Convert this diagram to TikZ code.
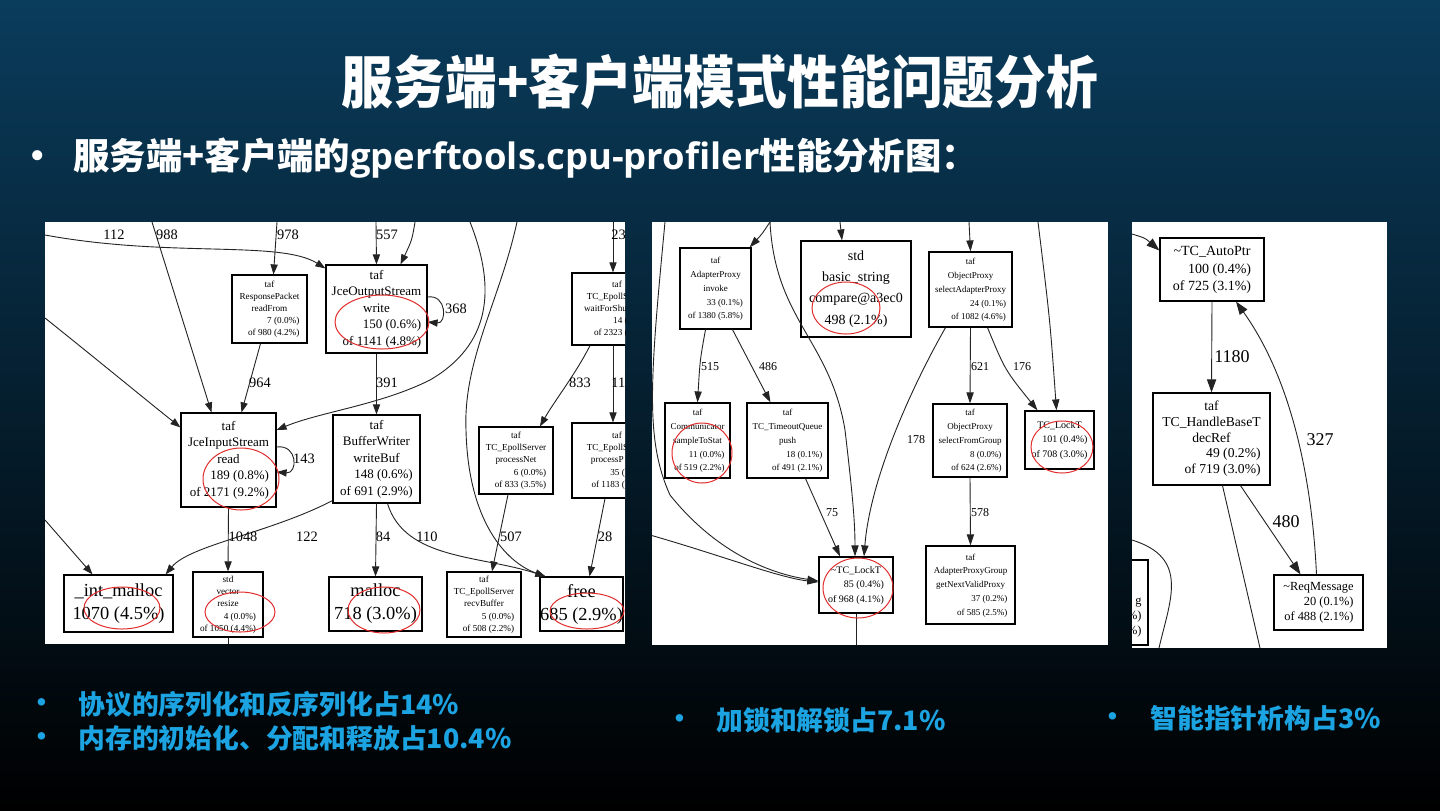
\documentclass[tikz,border=0pt]{standalone}
\usepackage{fontspec}
\setmainfont{Liberation Serif}
\newfontfamily\cjk{Noto Sans CJK SC}
\newfontfamily\latin{Open Sans}
\usetikzlibrary{arrows.meta,calc}
\definecolor{bgtop}{RGB}{10,60,92}
\definecolor{bgmid}{RGB}{4,28,44}
\definecolor{hilite}{RGB}{28,164,226}
\definecolor{circred}{RGB}{225,45,45}
\definecolor{edgegray}{RGB}{35,35,35}
\newcommand{\prof}[3]{\begin{tabular}{@{}c@{}}#1\\\hfill#2\\\hfill#3\end{tabular}}

\begin{document}
\begin{tikzpicture}[x=0.5pt,y=-0.5pt,
  fn/.style={draw,line width=0.6pt,fill=white,inner sep=0pt,text=black,align=center},
  sz/.style 2 args={minimum width=#1*0.5pt,minimum height=#2*0.5pt},
  p1tiny/.style={font=\fontsize{4.6}{6.1}\selectfont},
  p1mid/.style={font=\fontsize{6.5}{8.2}\selectfont},
  p1big/.style={font=\fontsize{9.2}{11.5}\selectfont},
  p2tiny/.style={font=\fontsize{4.5}{6.9}\selectfont},
  p2std/.style={font=\fontsize{7}{10.6}\selectfont},
  p2lock/.style={font=\fontsize{5}{7.4}\selectfont},
  p3a/.style={font=\fontsize{7}{8.8}\selectfont},
  p3b/.style={font=\fontsize{6.8}{7.9}\selectfont},
  p3c/.style={font=\fontsize{6.2}{7.5}\selectfont},
  lab1/.style={font=\fontsize{7.2}{8}\selectfont,inner sep=0pt},
  lab2/.style={font=\fontsize{6}{7}\selectfont,inner sep=0pt},
  lab3/.style={font=\fontsize{9}{10}\selectfont,inner sep=0pt},
  pl/.style={line width=0.45pt,draw=edgegray},
  ed1/.style={pl,-{Triangle[length=5pt,width=3.6pt]}},
  ed2/.style={pl,-{Triangle[length=5.5pt,width=3.6pt]}},
  ed3/.style={pl,-{Triangle[length=6.5pt,width=4.6pt]}},
  ring/.style={draw=circred,line width=0.5pt},
  slide/.style={text=white,inner sep=0pt},
  note/.style={text=hilite,inner sep=0pt,font=\cjk\bfseries\fontsize{13.4}{15}\selectfont}]

\useasboundingbox (0,0) rectangle (1440,810);
\shade[top color=bgtop,middle color=bgmid,bottom color=black] (0,0) rectangle (1440,810);

% title and heading
\node[slide,font=\cjk\bfseries\fontsize{25.9}{28}\selectfont] (title) at (720,82) {\scalebox{1}[1.1]{服务端+客户端模式性能问题分析}};
\node[slide,font=\cjk\bfseries\fontsize{18.2}{20}\selectfont] (dot0) at (38,160) {•};
\node[slide,anchor=west,font=\cjk\bfseries\fontsize{18.2}{20}\selectfont] (head) at (73,158) {服务端+客户端的{\latin gperftools.cpu-profiler}性能分析图：};

% panel 1: serialization and memory
\fill[white] (45,222) rectangle (625,644);
\begin{scope}
\clip (45,222) rectangle (625,644);
\node[fn,p1tiny,sz={75}{68}] (rp) at (269.5,309) {\prof{taf\\ResponsePacket\\readFrom}{7 (0.0\%)}{of 980 (4.2\%)}};
\node[fn,p1mid,sz={101}{88}] (jos) at (376.5,309) {\prof{taf\\JceOutputStream\\write}{150 (0.6\%)}{of 1141 (4.8\%)}};
\node[fn,p1mid,sz={95}{94}] (jis) at (228.5,460) {\prof{taf\\JceInputStream\\read}{189 (0.8\%)}{of 2171 (9.2\%)}};
\node[fn,p1mid,sz={87}{88}] (bw) at (376.5,459) {\prof{taf\\BufferWriter\\writeBuf}{148 (0.6\%)}{of 691 (2.9\%)}};
\node[fn,p1big,sz={109}{57}] (im) at (118.5,603.5) {\_int\_malloc\\1070 (4.5\%)};
\node[fn,p1tiny,sz={70}{65}] (vec) at (228,604.5) {\prof{std\\vector\\resize}{4 (0.0\%)}{of 1050 (4.4\%)}};
\node[fn,p1big,sz={93}{54}] (mal) at (375.5,604) {malloc\\718 (3.0\%)};
\node[fn,p1tiny,sz={74}{67}] (pn) at (516,460.5) {\prof{taf\\TC\_EpollServer\\processNet}{6 (0.0\%)}{of 833 (3.5\%)}};
\node[fn,p1tiny,sz={74}{65}] (rb) at (484,604.5) {\prof{taf\\TC\_EpollServer\\recvBuffer}{5 (0.0\%)}{of 508 (2.2\%)}};
\node[fn,p1big,sz={83}{54}] (fr) at (581.5,604) {free\\685 (2.9\%)};
\node[fn,p1tiny,sz={90}{72}] (wfs) at (617,309) {\prof{taf\\TC\_EpollS\phantom{erver}\\waitForShu\phantom{tdown}}{14 (\phantom{0.1\%)}}{of 2323 (\phantom{0.1\%)}}};
\node[fn,p1tiny,sz={90}{75}] (pp) at (617,460.5) {\prof{taf\\TC\_EpollS\phantom{erver}\\processP\phantom{acket}}{35 (\phantom{0.1\%)}}{of 1183 (\phantom{0.1\%)}}};

\coordinate (e112) at (45,235);
\coordinate (e988) at (152,222);
\coordinate (e978) at (277,222);
\coordinate (el1) at (45,318);
\coordinate (el2) at (45,520);
\coordinate (e557) at (376,222);
\coordinate (eto) at (415,222);
\coordinate (ec1) at (470,222);
\coordinate (ec2) at (517,222);
\coordinate (e23) at (613,222);
\coordinate (evec) at (228,644);
\draw[ed1] (e112) .. controls (170,258) and (280,240) .. ($(jos.north west)+(0,4)$);
\draw[ed1] (e988) -- ($(jis.north)+(-17,0)$);
\draw[ed1] (e978) -- ($(rp.north)+(4,0)$);
\draw[ed1] ($(rp.south)+(-9,0)$) -- ($(jis.north)+(13,0)$);
\draw[ed1] (el1) .. controls (100,362) and (140,395) .. ($(jis.north west)+(0,15)$);
\draw[ed1] (el2) -- ($(im.north)+(-26,0)$);
\draw[ed1] (e557) -- (jos.north);
\draw[ed1] (eto) .. controls (412,240) .. ($(jos.north)+(24,0)$);
\draw[ed1] ($(jos.east)+(0,-12)$) .. controls (447,294) and (447,324) .. ($(jos.east)+(0,13)$);
\draw[ed1] (jos.south) -- (bw.north);
\draw[ed1] (ec1) .. controls (497,290) and (490,345) .. (430,380) .. controls (380,405) and (320,412) .. ($(jis.east)+(0,-30)$);
\draw[ed1] (ec2) .. controls (500,300) and (463,360) .. (466,430) .. controls (468,520) and (505,562) .. ($(fr.north west)+(6,0)$);
\draw[ed1] ($(wfs.south)+(-27,0)$) .. controls (575,375) and (555,400) .. ($(pn.north)+(24,0)$);
\draw[ed1] ($(wfs.south)+(-4,0)$) -- ($(pp.north)+(-4,0)$);
\draw[ed1] (e23) -- ($(wfs.north)+(-4,0)$);
\draw[ed1] ($(jis.east)+(0,-13)$) .. controls (298,444) and (298,474) .. ($(jis.east)+(0,12)$);
\draw[ed1] (jis.south) -- (vec.north);
\draw[ed1] ($(bw.south west)+(0,-3)$) .. controls (270,533) and (190,545) .. ($(im.north east)+(-8,0)$);
\draw[ed1] (bw.south) -- (mal.north);
\draw[ed1] ($(bw.south)+(11,0)$) .. controls (405,560) and (480,555) .. ($(fr.north west)+(6,0)$);
\draw[ed1] ($(pn.south)+(-8,0)$) -- ($(rb.north)+(8,0)$);
\draw[ed1] ($(pp.south)+(-12,0)$) -- ($(fr.north)+(8,0)$);
\draw[pl] (vec.south) -- (evec);

\node[lab1] (l112) at (114,235) {112};
\node[lab1] (l988) at (167,235) {988};
\node[lab1] (l978) at (288,235) {978};
\node[lab1] (l557) at (387,235) {557};
\node[lab1,anchor=west] (l23) at (611,235) {23};
\node[lab1] (l368) at (456,309) {368};
\node[lab1] (l964) at (260,383) {964};
\node[lab1] (l391) at (387,383) {391};
\node[lab1] (l833) at (580,383) {833};
\node[lab1,anchor=west] (l11) at (611,383) {11};
\node[lab1] (l143) at (304,459) {143};
\node[lab1] (l1048) at (243,537) {1048};
\node[lab1] (l122) at (307,537) {122};
\node[lab1] (l84) at (383,537) {84};
\node[lab1] (l110) at (427,537) {110};
\node[lab1] (l507) at (511,537) {507};
\node[lab1] (l28) at (605,537) {28};

\draw[ring] (382,322) ellipse [x radius=47,y radius=27];
\draw[ring] (241,479) ellipse [x radius=38,y radius=31];
\draw[ring] (122,608) ellipse [x radius=38,y radius=21];
\draw[ring] (240,612) ellipse [x radius=35,y radius=20];
\draw[ring] (384,610) ellipse [x radius=36,y radius=23];
\draw[ring] (587,611) ellipse [x radius=37,y radius=18];
\end{scope}

% panel 2: locks
\fill[white] (652,222) rectangle (1108,645);
\begin{scope}
\clip (652,222) rectangle (1108,645);
\node[fn,p2tiny,sz={71}{81}] (api) at (715.5,288.5) {\prof{taf\\AdapterProxy\\invoke}{33 (0.1\%)}{of 1380 (5.8\%)}};
\node[fn,p2std,sz={110}{96}] (str) at (856,289) {std\\basic\_string\\compare@a3ec0\\498 (2.1\%)};
\node[fn,p2tiny,sz={83}{75}] (osa) at (970.5,289.5) {\prof{taf\\ObjectProxy\\selectAdapterProxy}{24 (0.1\%)}{of 1082 (4.6\%)}};
\node[fn,p2tiny,sz={65}{75}] (com) at (697.5,440.5) {\prof{taf\\Communicator\\sampleToStat}{11 (0.0\%)}{of 519 (2.2\%)}};
\node[fn,p2tiny,sz={81}{75}] (tq) at (787.5,440.5) {\prof{taf\\TC\_TimeoutQueue\\push}{18 (0.1\%)}{of 491 (2.1\%)}};
\node[fn,p2tiny,sz={74}{73}] (osf) at (970,440.5) {\prof{taf\\ObjectProxy\\selectFromGroup}{8 (0.0\%)}{of 624 (2.6\%)}};
\node[fn,p2lock,sz={69}{58}] (lk2) at (1059.5,440) {\prof{TC\_LockT}{101 (0.4\%)}{of 708 (3.0\%)}};
\node[fn,p2lock,sz={74}{56}] (lk1) at (856,585) {\prof{\textasciitilde TC\_LockT}{85 (0.4\%)}{of 968 (4.1\%)}};
\node[fn,p2tiny,sz={89}{78}] (apg) at (970.5,585) {\prof{taf\\AdapterProxyGroup\\getNextValidProxy}{37 (0.2\%)}{of 585 (2.5\%)}};

\coordinate (fa) at (770,222);
\coordinate (fl) at (665,222);
\coordinate (fl2) at (650,535);
\coordinate (fs) at (840,222);
\coordinate (fo) at (969,222);
\coordinate (fr2) at (1038,222);
\coordinate (fb) at (856,645);
\draw[ed2] (fa) .. controls (762,234) .. ($(api.north east)+(-2,0)$);
\draw[ed2] (fa) .. controls (775,320) and (830,340) .. (845,430) .. controls (852,490) and (855,520) .. ($(lk1.north)+(-1,0)$);
\draw[ed2] (fl) .. controls (650,380) and (645,440) .. (670,495) .. controls (710,545) and (760,572) .. ($(lk1.west)+(0,-4)$);
\draw[ed2] (fl2) .. controls (720,555) and (780,578) .. ($(lk1.west)+(0,-3)$);
\draw[ed2] (fs) -- ($(str.north)+(-14,0)$);
\draw[ed2] ($(api.south)+(-10,0)$) .. controls (700,360) .. (com.north);
\draw[ed2] ($(api.south)+(17,0)$) -- ($(tq.north)+(-17,0)$);
\draw[ed2] ($(tq.south)+(18,0)$) -- ($(lk1.north)+(-16,0)$);
\draw[ed2] (fo) -- (osa.north);
\draw[ed2] (osa.south) -- (osf.north);
\draw[ed2] ($(osa.south)+(17,0)$) .. controls (1005,370) .. ($(lk2.north)+(-22,0)$);
\draw[ed2] (fr2) .. controls (1050,320) .. ($(lk2.north)+(-3,0)$);
\draw[ed2] ($(osa.south)+(-25,0)$) .. controls (910,390) and (870,480) .. ($(lk1.north)+(8,0)$);
\draw[ed2] (osf.south) -- (apg.north);
\draw[pl] (lk1.south) -- (fb);

\node[lab2] (l515) at (710,367) {515};
\node[lab2] (l486) at (768,367) {486};
\node[lab2] (l621) at (980,367) {621};
\node[lab2] (l176) at (1022,367) {176};
\node[lab2] (l178) at (916,440) {178};
\node[lab2] (l75) at (832,513) {75};
\node[lab2] (l578) at (980,513) {578};

\draw[ring] (846,308) ellipse [x radius=34,y radius=26];
\draw[ring] (702,453) ellipse [x radius=30,y radius=30];
\draw[ring] (858,588) ellipse [x radius=35,y radius=30];
\draw[ring] (1062,447) ellipse [x radius=31,y radius=26];
\end{scope}

% panel 3: smart pointers
\fill[white] (1132,222) rectangle (1387,648);
\begin{scope}
\clip (1132,222) rectangle (1387,648);
\node[fn,p3a,sz={104}{63}] (ap) at (1212,269.5) {\prof{\textasciitilde TC\_AutoPtr}{100 (0.4\%)}{of 725 (3.1\%)}};
\node[fn,p3b,sz={117}{92}] (hb) at (1211.5,439) {\prof{taf\\TC\_HandleBaseT\\decRef}{49 (0.2\%)}{of 719 (3.0\%)}};
\node[fn,p3c,sz={89}{55}] (rm) at (1318.5,602.5) {\prof{\textasciitilde ReqMessage}{20 (0.1\%)}{of 488 (2.1\%)}};
\node[fn,sz={96}{85}] (pb) at (1100,602.5) {};
\node[p3c,anchor=east,align=right,inner sep=0pt] (pbt) at (1142,618) {g\\\%)\\\%)};

\coordinate (ga) at (1132,234);
\coordinate (gb) at (1260,648);
\coordinate (gc) at (1132,540);
\coordinate (gd) at (1159,648);
\draw[ed3] (ga) .. controls (1145,238) .. ($(ap.west)+(0,-19)$);
\draw[ed3] (ap.south) -- (hb.north);
\draw[ed3] ($(hb.south)+(29,0)$) -- ($(rm.north)+(-18,0)$);
\draw[ed3] ($(rm.north)+(-2,0)$) .. controls (1312,480) and (1292,380) .. ($(ap.south)+(24,0)$);
\draw[pl] ($(hb.south)+(11,0)$) -- (gb);
\draw[pl] (gc) .. controls (1190,558) and (1170,600) .. (gd);

\node[lab3] (l1180) at (1232,357) {1180};
\node[lab3] (l480) at (1286,522) {480};
\node[lab3] (l327) at (1320,440) {327};
\end{scope}

% conclusions
\node[note] (dot1) at (42,706) {•};
\node[note,anchor=west] (n1) at (78,704) {协议的序列化和反序列化占14\%};
\node[note] (dot2) at (42,740) {•};
\node[note,anchor=west] (n2) at (78,738) {内存的初始化、分配和释放占10.4\%};
\node[note] (dot3) at (680,722) {•};
\node[note,anchor=west] (n3) at (716,720) {加锁和解锁占7.1\%};
\node[note] (dot4) at (1113,720) {•};
\node[note,anchor=west] (n4) at (1150,718) {智能指针析构占3\%};
\end{tikzpicture}
\end{document}
